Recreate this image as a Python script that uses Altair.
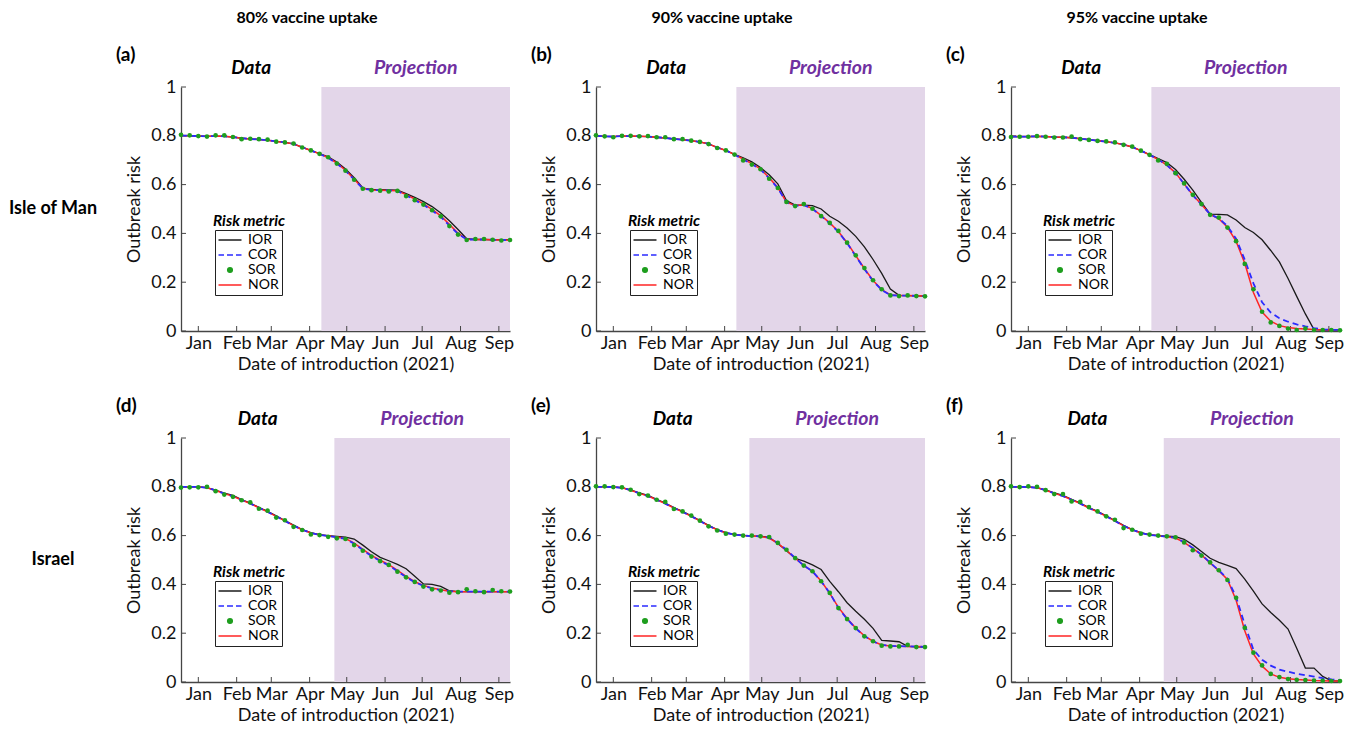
import altair as alt
import pandas as pd

# ---------------- data ----------------
DAYS = [-14, -7, 0, 7, 14, 21, 28, 35, 42, 49, 56, 63, 70, 77, 84, 91, 98, 105, 112,
        119, 126, 133, 140, 147, 154, 161, 168, 175, 182, 189, 196, 203, 210, 217, 224,
        231, 238, 245, 252]
X_DOMAIN = [-14, 252]
MONTH_TICKS = [0, 31, 59, 90, 120, 151, 181, 212, 243]
MONTH_LABELS = ["Jan", "Feb", "Mar", "Apr", "May", "Jun", "Jul", "Aug", "Sep"]
Y_TICKS = [0, 0.2, 0.4, 0.6, 0.8, 1]

UPTAKES = ["80% vaccine uptake", "90% vaccine uptake", "95% vaccine uptake"]
REGIONS = ["Isle of Man", "Israel"]
LETTERS = ["(a)", "(b)", "(c)", "(d)", "(e)", "(f)"]
PROJ_START = [99.5, 99.5, 99.5, 110, 110, 109.5]
SERIES = ["IOR", "COR", "SOR", "NOR"]

# (a) Isle of Man, 80%
A_IOR = [0.801, 0.800, 0.799, 0.798, 0.799, 0.798, 0.795, 0.790, 0.787, 0.785, 0.782, 0.777, 0.773, 0.767, 0.753, 0.740, 0.727, 0.714, 0.692, 0.664, 0.628, 0.586, 0.580, 0.579, 0.578, 0.577, 0.563, 0.548, 0.530, 0.510, 0.484, 0.452, 0.416, 0.378, 0.375, 0.375, 0.374, 0.374, 0.374]
A_COR = [0.801, 0.800, 0.799, 0.798, 0.799, 0.798, 0.795, 0.790, 0.787, 0.785, 0.782, 0.777, 0.773, 0.767, 0.753, 0.740, 0.726, 0.710, 0.686, 0.657, 0.620, 0.584, 0.578, 0.577, 0.576, 0.574, 0.556, 0.537, 0.517, 0.494, 0.468, 0.432, 0.398, 0.375, 0.375, 0.375, 0.374, 0.373, 0.373]
A_SOR = [0.804, 0.802, 0.799, 0.797, 0.802, 0.802, 0.795, 0.786, 0.788, 0.786, 0.784, 0.776, 0.773, 0.768, 0.752, 0.740, 0.726, 0.712, 0.686, 0.657, 0.620, 0.583, 0.577, 0.575, 0.572, 0.574, 0.553, 0.536, 0.518, 0.495, 0.470, 0.430, 0.395, 0.373, 0.377, 0.377, 0.374, 0.371, 0.373]
A_NOR = [0.801, 0.800, 0.799, 0.798, 0.799, 0.798, 0.795, 0.790, 0.787, 0.785, 0.782, 0.777, 0.773, 0.767, 0.753, 0.740, 0.726, 0.711, 0.688, 0.659, 0.622, 0.585, 0.578, 0.577, 0.576, 0.575, 0.559, 0.541, 0.521, 0.498, 0.472, 0.437, 0.401, 0.376, 0.375, 0.375, 0.374, 0.373, 0.373]

# (b) Isle of Man, 90%
B_IOR = [0.800, 0.798, 0.797, 0.799, 0.799, 0.798, 0.797, 0.794, 0.791, 0.787, 0.784, 0.780, 0.775, 0.767, 0.752, 0.740, 0.724, 0.710, 0.693, 0.670, 0.640, 0.603, 0.535, 0.516, 0.516, 0.514, 0.500, 0.470, 0.450, 0.422, 0.388, 0.345, 0.293, 0.236, 0.172, 0.146, 0.145, 0.144, 0.143]
B_COR = [0.800, 0.798, 0.797, 0.799, 0.799, 0.798, 0.797, 0.794, 0.791, 0.787, 0.784, 0.780, 0.775, 0.767, 0.752, 0.740, 0.723, 0.703, 0.684, 0.662, 0.626, 0.586, 0.527, 0.513, 0.516, 0.501, 0.471, 0.441, 0.406, 0.360, 0.307, 0.254, 0.205, 0.168, 0.147, 0.145, 0.145, 0.144, 0.143]
B_SOR = [0.802, 0.798, 0.794, 0.800, 0.800, 0.798, 0.799, 0.794, 0.794, 0.786, 0.786, 0.780, 0.775, 0.766, 0.750, 0.740, 0.723, 0.699, 0.682, 0.663, 0.624, 0.586, 0.529, 0.512, 0.520, 0.501, 0.471, 0.443, 0.410, 0.362, 0.310, 0.258, 0.208, 0.171, 0.146, 0.143, 0.146, 0.143, 0.142]
B_NOR = [0.800, 0.798, 0.797, 0.799, 0.799, 0.798, 0.797, 0.794, 0.791, 0.787, 0.784, 0.780, 0.775, 0.767, 0.752, 0.740, 0.723, 0.705, 0.686, 0.664, 0.628, 0.588, 0.528, 0.514, 0.516, 0.502, 0.473, 0.443, 0.408, 0.362, 0.309, 0.256, 0.207, 0.170, 0.148, 0.145, 0.145, 0.144, 0.143]

# (c) Isle of Man, 95%
C_IOR = [0.797, 0.797, 0.797, 0.798, 0.797, 0.795, 0.794, 0.792, 0.788, 0.784, 0.780, 0.776, 0.771, 0.764, 0.754, 0.739, 0.723, 0.707, 0.690, 0.662, 0.622, 0.577, 0.527, 0.479, 0.478, 0.476, 0.455, 0.424, 0.404, 0.374, 0.330, 0.283, 0.215, 0.142, 0.070, 0.006, 0.004, 0.004, 0.004]
C_COR = [0.797, 0.797, 0.797, 0.798, 0.797, 0.795, 0.794, 0.792, 0.788, 0.784, 0.780, 0.776, 0.771, 0.764, 0.754, 0.739, 0.722, 0.703, 0.680, 0.648, 0.603, 0.557, 0.518, 0.478, 0.462, 0.430, 0.378, 0.292, 0.195, 0.118, 0.076, 0.052, 0.038, 0.027, 0.019, 0.012, 0.007, 0.005, 0.004]
C_SOR = [0.795, 0.796, 0.796, 0.799, 0.796, 0.793, 0.793, 0.797, 0.786, 0.783, 0.779, 0.777, 0.773, 0.763, 0.756, 0.739, 0.722, 0.699, 0.685, 0.647, 0.605, 0.558, 0.520, 0.476, 0.465, 0.424, 0.368, 0.275, 0.171, 0.079, 0.035, 0.021, 0.010, 0.004, 0.010, 0.004, 0.004, 0.004, 0.003]
C_NOR = [0.797, 0.797, 0.797, 0.798, 0.797, 0.795, 0.794, 0.792, 0.788, 0.784, 0.780, 0.776, 0.771, 0.764, 0.754, 0.739, 0.722, 0.703, 0.680, 0.648, 0.603, 0.557, 0.518, 0.478, 0.460, 0.425, 0.367, 0.278, 0.158, 0.078, 0.040, 0.022, 0.014, 0.010, 0.008, 0.006, 0.005, 0.004, 0.004]

# (d) Israel, 80%
D_IOR = [0.800, 0.800, 0.800, 0.797, 0.786, 0.774, 0.765, 0.748, 0.733, 0.716, 0.699, 0.681, 0.662, 0.643, 0.625, 0.612, 0.604, 0.600, 0.597, 0.594, 0.586, 0.561, 0.534, 0.511, 0.497, 0.482, 0.464, 0.433, 0.402, 0.400, 0.392, 0.374, 0.370, 0.370, 0.370, 0.370, 0.370, 0.370, 0.370]
D_COR = [0.800, 0.800, 0.800, 0.796, 0.785, 0.772, 0.761, 0.746, 0.731, 0.714, 0.697, 0.679, 0.660, 0.641, 0.624, 0.611, 0.603, 0.598, 0.593, 0.587, 0.567, 0.541, 0.516, 0.496, 0.478, 0.454, 0.430, 0.409, 0.394, 0.384, 0.377, 0.372, 0.370, 0.370, 0.370, 0.370, 0.370, 0.370, 0.370]
D_SOR = [0.797, 0.798, 0.798, 0.800, 0.782, 0.768, 0.759, 0.745, 0.736, 0.710, 0.702, 0.674, 0.663, 0.636, 0.623, 0.605, 0.602, 0.595, 0.589, 0.586, 0.561, 0.538, 0.514, 0.495, 0.480, 0.452, 0.429, 0.410, 0.391, 0.380, 0.375, 0.366, 0.368, 0.380, 0.372, 0.368, 0.377, 0.372, 0.371]
D_NOR = [0.800, 0.800, 0.800, 0.796, 0.785, 0.772, 0.761, 0.746, 0.731, 0.714, 0.697, 0.679, 0.660, 0.641, 0.624, 0.611, 0.603, 0.598, 0.594, 0.588, 0.569, 0.544, 0.519, 0.499, 0.481, 0.458, 0.433, 0.411, 0.396, 0.385, 0.378, 0.372, 0.370, 0.370, 0.370, 0.370, 0.370, 0.370, 0.370]

# (e) Israel, 90%
E_IOR = [0.800, 0.800, 0.799, 0.797, 0.787, 0.775, 0.765, 0.749, 0.733, 0.715, 0.699, 0.681, 0.662, 0.642, 0.625, 0.612, 0.605, 0.601, 0.599, 0.598, 0.593, 0.568, 0.538, 0.507, 0.495, 0.480, 0.461, 0.412, 0.370, 0.325, 0.290, 0.257, 0.220, 0.171, 0.168, 0.165, 0.146, 0.144, 0.143]
E_COR = [0.800, 0.800, 0.799, 0.796, 0.786, 0.773, 0.762, 0.747, 0.731, 0.713, 0.697, 0.679, 0.660, 0.640, 0.624, 0.611, 0.604, 0.600, 0.598, 0.597, 0.592, 0.570, 0.542, 0.508, 0.477, 0.454, 0.413, 0.365, 0.303, 0.258, 0.220, 0.188, 0.166, 0.152, 0.148, 0.147, 0.146, 0.145, 0.144]
E_SOR = [0.802, 0.802, 0.799, 0.798, 0.788, 0.770, 0.764, 0.747, 0.738, 0.709, 0.699, 0.682, 0.661, 0.638, 0.621, 0.608, 0.604, 0.600, 0.600, 0.597, 0.594, 0.570, 0.542, 0.508, 0.477, 0.454, 0.413, 0.365, 0.303, 0.258, 0.221, 0.187, 0.167, 0.149, 0.146, 0.146, 0.152, 0.143, 0.143]
E_NOR = [0.800, 0.800, 0.799, 0.796, 0.786, 0.773, 0.762, 0.747, 0.731, 0.713, 0.697, 0.679, 0.660, 0.640, 0.624, 0.611, 0.604, 0.600, 0.598, 0.596, 0.590, 0.568, 0.540, 0.507, 0.478, 0.453, 0.414, 0.363, 0.306, 0.260, 0.221, 0.189, 0.167, 0.152, 0.148, 0.147, 0.146, 0.145, 0.144]

# (f) Israel, 95%
F_IOR = [0.800, 0.800, 0.799, 0.797, 0.787, 0.775, 0.765, 0.749, 0.733, 0.715, 0.699, 0.681, 0.662, 0.642, 0.625, 0.612, 0.604, 0.600, 0.598, 0.596, 0.585, 0.562, 0.535, 0.507, 0.490, 0.478, 0.465, 0.422, 0.372, 0.320, 0.285, 0.253, 0.217, 0.138, 0.057, 0.057, 0.023, 0.005, 0.004]
F_COR = [0.800, 0.800, 0.799, 0.796, 0.786, 0.773, 0.762, 0.747, 0.731, 0.713, 0.697, 0.679, 0.660, 0.640, 0.624, 0.611, 0.603, 0.599, 0.596, 0.591, 0.573, 0.549, 0.522, 0.489, 0.458, 0.423, 0.348, 0.235, 0.132, 0.091, 0.067, 0.051, 0.042, 0.034, 0.028, 0.022, 0.016, 0.011, 0.008]
F_SOR = [0.802, 0.799, 0.802, 0.800, 0.786, 0.770, 0.770, 0.740, 0.738, 0.717, 0.699, 0.679, 0.665, 0.631, 0.624, 0.608, 0.604, 0.600, 0.597, 0.593, 0.572, 0.540, 0.518, 0.490, 0.458, 0.418, 0.345, 0.222, 0.120, 0.068, 0.033, 0.020, 0.012, 0.009, 0.008, 0.006, 0.005, 0.004, 0.004]
F_NOR = [0.800, 0.800, 0.799, 0.796, 0.786, 0.773, 0.762, 0.747, 0.731, 0.713, 0.697, 0.679, 0.660, 0.640, 0.624, 0.611, 0.603, 0.599, 0.595, 0.590, 0.572, 0.548, 0.521, 0.488, 0.456, 0.420, 0.335, 0.210, 0.115, 0.065, 0.033, 0.019, 0.013, 0.010, 0.008, 0.006, 0.005, 0.004, 0.004]

PANEL_DATA = [
    (A_IOR, A_COR, A_SOR, A_NOR),
    (B_IOR, B_COR, B_SOR, B_NOR),
    (C_IOR, C_COR, C_SOR, C_NOR),
    (D_IOR, D_COR, D_SOR, D_NOR),
    (E_IOR, E_COR, E_SOR, E_NOR),
    (F_IOR, F_COR, F_SOR, F_NOR),
]

# ---------------- style ----------------
FONT = "Lato"
W, H = 329, 244
C_IOR_COL = "#1a1a1a"
C_COR_COL = "#2b2bff"
C_SOR_COL = "#1e9e1e"
C_NOR_COL = "#ff2424"
SHADE = "#e3d6e9"
PURPLE = "#7030a0"
AXC = "#454545"

# legend symbols (custom paths so that each entry looks like its series)
LINE_PATH = "M-2.09,0H2.09"
DASH_PATH = "M-2.09,0H-1.09M-0.545,0H0.545M1.09,0H2.09"
DOT_PATH = "M-0.42,0A0.42,0.42 0 1,0 0.42,0A0.42,0.42 0 1,0 -0.42,0Z"
LEG_SHAPES = [LINE_PATH, DASH_PATH, DOT_PATH, LINE_PATH]
LEG_STROKES = [C_IOR_COL, C_COR_COL, C_SOR_COL, C_NOR_COL]
LEG_FILLS = ["transparent", "transparent", C_SOR_COL, "transparent"]

label_expr = "[" + ",".join("'%s'" % m for m in MONTH_LABELS) + "][indexof([" + \
    ",".join(str(t) for t in MONTH_TICKS) + "], datum.value)]"

xaxis = alt.Axis(values=MONTH_TICKS, labelExpr=label_expr, title="Date of introduction (2021)",
                 ticks=False, grid=False, labelFlush=False, labelOverlap=False,
                 labelPadding=3, titlePadding=3)
yaxis = alt.Axis(values=Y_TICKS, format=".1~f", title="Outbreak risk", ticks=False, grid=False,
                 labelFlush=False, labelOverlap=False, labelPadding=5, titlePadding=7)


def make_panel(k):
    ior, cor, sor, nor = PANEL_DATA[k]
    ps = PROJ_START[k]
    x = alt.X("day:Q", scale=alt.Scale(domain=X_DOMAIN, nice=False, zero=False), axis=xaxis)
    y = alt.Y("value:Q", scale=alt.Scale(domain=[0, 1], nice=False, zero=False), axis=yaxis)

    shade = alt.Chart(pd.DataFrame({"day": [ps], "day_end": [X_DOMAIN[1]],
                                    "value": [0], "value_end": [1]})).mark_rect(
        color=SHADE).encode(x=x, x2="day_end", y=y, y2="value_end")

    xticks = alt.Chart(pd.DataFrame({"day": MONTH_TICKS})).mark_rule(
        color=AXC, strokeWidth=1).encode(x=x, y=alt.value(H), y2=alt.value(H - 5))
    yticks = alt.Chart(pd.DataFrame({"value": Y_TICKS})).mark_rule(
        color=AXC, strokeWidth=1).encode(y=y, x=alt.value(0), x2=alt.value(5))

    l_ior = alt.Chart(pd.DataFrame({"day": DAYS, "value": ior})).mark_line(
        color=C_IOR_COL, strokeWidth=1.3).encode(x=x, y=y)
    l_nor = alt.Chart(pd.DataFrame({"day": DAYS, "value": nor})).mark_line(
        color=C_NOR_COL, strokeWidth=1.5).encode(x=x, y=y)
    l_cor = alt.Chart(pd.DataFrame({"day": DAYS, "value": cor})).mark_line(
        color=C_COR_COL, strokeWidth=1.8, strokeDash=[6, 4]).encode(x=x, y=y)
    p_sor = alt.Chart(pd.DataFrame({"day": DAYS, "value": sor})).mark_circle(
        color=C_SOR_COL, size=22, opacity=1).encode(x=x, y=y)

    leg = alt.Legend(title=None, orient="none", legendX=34, legendY=143,
                     symbolSize=121, symbolStrokeWidth=1.5, symbolOffset=5,
                     labelOffset=11, labelFont=FONT, labelFontSize=14, labelColor="black",
                     rowPadding=1, padding=3, strokeColor="#222", fillColor="white",
                     cornerRadius=0, symbolOpacity=1)
    leg_layer = alt.Chart(pd.DataFrame({"series": pd.Series([], dtype=str)})).mark_point(
        opacity=1, strokeWidth=1.5, size=121).encode(
        shape=alt.Shape("series:N", scale=alt.Scale(domain=SERIES, range=LEG_SHAPES), legend=leg),
        stroke=alt.Stroke("series:N", scale=alt.Scale(domain=SERIES, range=LEG_STROKES), legend=leg),
        fill=alt.Fill("series:N", scale=alt.Scale(domain=SERIES, range=LEG_FILLS), legend=leg),
    )
    leg_title = alt.Chart(pd.DataFrame({"label": ["Risk metric"]})).mark_text(
        font=FONT, fontSize=15.5, fontWeight="bold", fontStyle="italic", color="black",
        align="center", baseline="middle").encode(
        x=alt.value(68), y=alt.value(134), text="label:N")

    t_data = alt.Chart(pd.DataFrame({"day": [(X_DOMAIN[0] + ps) / 2], "label": ["Data"]})).mark_text(
        font=FONT, fontSize=19, fontWeight="bold", fontStyle="italic", color="black",
        align="center", baseline="middle").encode(x=x, y=alt.value(-19), text="label:N")
    t_proj = alt.Chart(pd.DataFrame({"day": [(ps + X_DOMAIN[1]) / 2], "label": ["Projection"]})).mark_text(
        font=FONT, fontSize=19.5, fontWeight="bold", fontStyle="italic", color=PURPLE,
        align="center", baseline="middle").encode(x=x, y=alt.value(-19), text="label:N")
    t_letter = alt.Chart(pd.DataFrame({"label": [LETTERS[k]]})).mark_text(
        font=FONT, fontSize=19, fontWeight="bold", color="black",
        align="left", baseline="middle").encode(x=alt.value(-65), y=alt.value(-32), text="label:N")

    layers = [shade, xticks, yticks, l_ior, l_nor, l_cor, p_sor, leg_layer, leg_title,
              t_data, t_proj, t_letter]
    if k < 3:
        layers.append(alt.Chart(pd.DataFrame({"label": [UPTAKES[k]]})).mark_text(
            font=FONT, fontSize=16, fontWeight="bold", color="black",
            align="center", baseline="middle").encode(
            x=alt.value(126), y=alt.value(-69), text="label:N"))
    if k % 3 == 0:
        layers.append(alt.Chart(pd.DataFrame({"label": [REGIONS[k // 3]]})).mark_text(
            font=FONT, fontSize=18, fontWeight="bold", color="black",
            align="center", baseline="middle").encode(
            x=alt.value(-128), y=alt.value(H / 2), text="label:N"))
    return alt.layer(*layers).properties(width=W, height=H)


panels = [make_panel(k) for k in range(6)]

IND = dict(shape="independent", fill="independent", stroke="independent")
chart = alt.concat(*panels, columns=3, spacing={"row": 107, "column": 86}, bounds="flush").resolve_scale(
    x="independent", y="independent", **IND).resolve_legend(**IND).properties(
    padding={"left": 0, "top": 2, "right": 2, "bottom": 2}
).configure(font=FONT).configure_view(stroke=None).configure_axis(
    domainColor=AXC, domainWidth=1.3, labelFont=FONT, labelFontSize=18, labelColor="#111",
    titleFont=FONT, titleFontSize=18, titleFontWeight="normal", titleColor="#111"
)

chart.save("out.html", embed_options={"renderer": "svg", "actions": False})
